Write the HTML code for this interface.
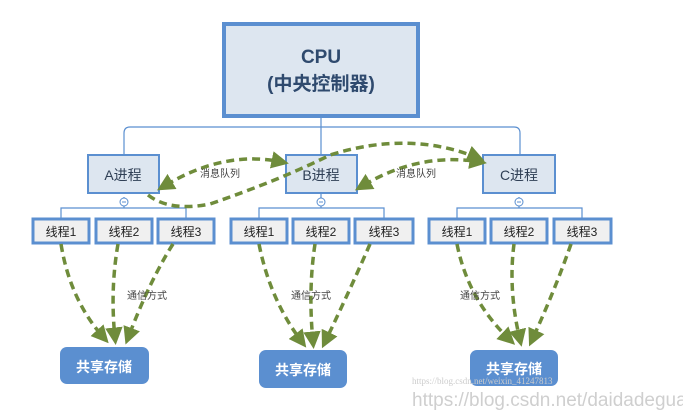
<!DOCTYPE html>
<html><head><meta charset="utf-8"><style>
html,body{margin:0;padding:0;background:#fff;}
svg{display:block;font-family:"Liberation Sans","Noto Sans CJK SC",sans-serif;}
</style></head><body>
<svg width="683" height="412" viewBox="0 0 683 412" xmlns="http://www.w3.org/2000/svg">
<defs>
<marker id="ah" markerWidth="5" markerHeight="5" refX="3" refY="2.5" orient="auto" markerUnits="strokeWidth">
<path d="M0,0 L5,2.5 L0,5 Z" fill="#6f8c3b"/>
</marker>
<marker id="ahs" markerWidth="5" markerHeight="5" refX="2" refY="2.5" orient="auto-start-reverse" markerUnits="strokeWidth">
<path d="M0,0 L5,2.5 L0,5 Z" fill="#6f8c3b"/>
</marker>
</defs>
<g fill="none" stroke="#5b8fd0" stroke-width="1.2">
<path d="M321,118 V203"/>
<path d="M124,154 V133 Q124,127 130,127 H514 Q520,127 520,133 V154"/>
<!-- thread bars -->
<path d="M61,218 V208 H186 V218 M124,208 V197"/>
<path d="M259,218 V208 H384 V218 M321,208 V197"/>
<path d="M457,218 V208 H582 V218 M519,208 V197"/>
</g>
<!-- CPU -->
<rect x="224" y="24" width="194" height="92" fill="#dde6f0" stroke="#5b8fd0" stroke-width="4"/>
<text x="321" y="63" font-size="19" font-weight="bold" fill="#2f4a6e" text-anchor="middle">CPU</text>
<text x="321" y="90" font-size="19" font-weight="bold" fill="#2f4a6e" text-anchor="middle">(中央控制器)</text>
<!-- processes -->
<g fill="#dde6f0" stroke="#5b8fd0" stroke-width="2">
<rect x="88" y="155" width="71" height="38"/>
<rect x="286" y="155" width="71" height="38"/>
<rect x="483" y="155" width="72" height="38"/>
</g>
<g font-size="14" fill="#2f3f55" text-anchor="middle">
<text x="123" y="180">A进程</text>
<text x="321" y="180">B进程</text>
<text x="519" y="180">C进程</text>
</g>
<!-- collapse circles -->
<g fill="#fff" stroke="#5b8fd0" stroke-width="1">
<circle cx="124" cy="202" r="4"/><circle cx="321" cy="202" r="4"/><circle cx="519" cy="202" r="4"/>
</g>
<g stroke="#5b8fd0" stroke-width="1"><path d="M122,202h4M319,202h4M517,202h4"/></g>
<!-- threads -->
<g fill="#f0f0f0" stroke="#5b8fd0" stroke-width="3">
<rect x="33" y="219" width="56" height="24"/><rect x="96" y="219" width="56" height="24"/><rect x="158" y="219" width="56" height="24"/>
<rect x="231" y="219" width="56" height="24"/><rect x="293" y="219" width="56" height="24"/><rect x="355" y="219" width="58" height="24"/>
<rect x="429" y="219" width="56" height="24"/><rect x="491" y="219" width="56" height="24"/><rect x="554" y="219" width="57" height="24"/>
</g>
<g font-size="12" fill="#222" text-anchor="middle">
<text x="61" y="236">线程1</text><text x="124" y="236">线程2</text><text x="186" y="236">线程3</text>
<text x="259" y="236">线程1</text><text x="321" y="236">线程2</text><text x="384" y="236">线程3</text>
<text x="457" y="236">线程1</text><text x="519" y="236">线程2</text><text x="582" y="236">线程3</text>
</g>
<!-- storage -->
<g fill="#5b8fd0">
<rect x="60" y="347" width="89" height="37" rx="7"/>
<rect x="259" y="350" width="88" height="38" rx="7"/>
<rect x="470" y="350" width="88" height="36" rx="7"/>
</g>
<g font-size="14" font-weight="bold" fill="#fff" text-anchor="middle">
<text x="104" y="372">共享存储</text><text x="303" y="375">共享存储</text><text x="514" y="374">共享存储</text>
</g>
<!-- green dashed arrows -->
<g fill="none" stroke="#6f8c3b" stroke-width="3.5" stroke-dasharray="8,5">
<path d="M61,244 Q70,300 104,338" marker-end="url(#ah)"/>
<path d="M118,244 Q110,290 115,338" marker-end="url(#ah)"/>
<path d="M173,244 Q150,280 128,338" marker-end="url(#ah)"/>
<path d="M259,244 Q270,300 302,342" marker-end="url(#ah)"/>
<path d="M315,244 Q308,290 313,342" marker-end="url(#ah)"/>
<path d="M370,244 Q350,290 325,342" marker-end="url(#ah)"/>
<path d="M457,244 Q468,300 510,340" marker-end="url(#ah)"/>
<path d="M514,244 Q508,290 520,340" marker-end="url(#ah)"/>
<path d="M571,244 Q555,290 532,340" marker-end="url(#ah)"/>
<path d="M166,185 Q225,150 282,162" marker-start="url(#ahs)" marker-end="url(#ah)"/>
<path d="M364,185 Q420,152 480,162" marker-start="url(#ahs)" marker-end="url(#ah)"/>
<path d="M148,195 Q170,212 210,204 Q280,180 330,155 Q410,130 478,158" marker-end="url(#ah)"/>
</g>
<g font-size="10" fill="#444">
<text x="200" y="177">消息队列</text><text x="396" y="177">消息队列</text>
<text x="127" y="299">通信方式</text><text x="291" y="299">通信方式</text><text x="460" y="299">通信方式</text>
</g>
<text x="412" y="384" font-size="9" fill="#ccc" font-family="Liberation Serif,serif">https://blog.csdn.net/weixin_41247813</text>
<text x="412" y="406" font-size="19" fill="#cfcfcf">https://blog.csdn.net/daidadeguaiguai</text>
</svg>
</body></html>
